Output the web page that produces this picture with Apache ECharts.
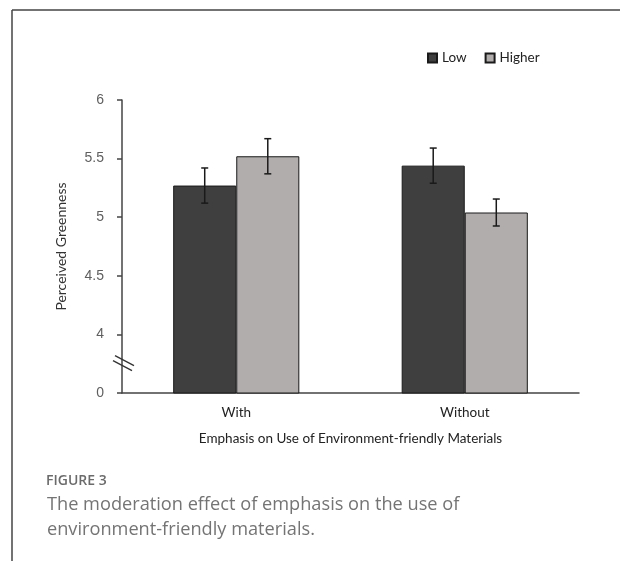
<!DOCTYPE html>
<html>
<head>
<meta charset="utf-8">
<script src="https://cdn.jsdelivr.net/npm/echarts@6/dist/echarts.min.js"></script>
<style>
  html, body { margin: 0; padding: 0; background: #fff; }
  #chart { width: 620px; height: 561px; }
</style>
</head>
<body>
<div id="chart"></div>
<script>
// data
var categories = ["With", "Without"];
var lowMeans = [5.27, 5.44];
var lowErr = [0.15, 0.15];
var higherMeans = [5.52, 5.04];
var higherErr = [0.15, 0.115];
// axis is broken: the bottom tick (3.5) stands for 0
var yTicks = { 3.5: "0", 4: "4", 4.5: "4.5", 5: "5", 5.5: "5.5", 6: "6" };

var barRatio = 0.276;

// error bar drawn over one bar of a group (side -1 = left, +1 = right)
function errorBars(means, errs, side) {
  return {
    type: "custom",
    silent: true,
    z: 5,
    data: means.map(function (m, i) { return [i, m - errs[i], m + errs[i]]; }),
    renderItem: function (params, api) {
      var band = api.size([1, 0])[0];
      var off = side * band * barRatio / 2;
      var lo = api.coord([api.value(0), api.value(1)]);
      var hi = api.coord([api.value(0), api.value(2)]);
      var x = lo[0] + off;
      var cap = 3.5;
      var st = { stroke: "#1a1a1a", lineWidth: 1.5 };
      return {
        type: "group",
        children: [
          { type: "line", shape: { x1: x, y1: hi[1], x2: x, y2: lo[1] }, style: st },
          { type: "line", shape: { x1: x - cap, y1: hi[1], x2: x + cap, y2: hi[1] }, style: st },
          { type: "line", shape: { x1: x - cap, y1: lo[1], x2: x + cap, y2: lo[1] }, style: st }
        ]
      };
    }
  };
}

var chart = echarts.init(document.getElementById("chart"));
var font = "Lato, 'Open Sans', sans-serif";

var option = {
  backgroundColor: "#fff",
  animation: false,
  textStyle: { fontFamily: font },
  legend: {
    data: ["Low", "Higher"],
    left: 422,
    top: 46,
    icon: "rect",
    itemWidth: 9,
    itemHeight: 9,
    itemGap: 18,
    textStyle: { fontSize: 13.5, color: "#222", fontFamily: font }
  },
  grid: { left: 122, right: 41, top: 100, bottom: 168 },
  xAxis: {
    type: "category",
    data: categories,
    name: "Emphasis on Use of Environment-friendly Materials",
    nameLocation: "middle",
    nameGap: 39,
    nameTextStyle: { fontSize: 13.5, color: "#222" },
    axisLine: { lineStyle: { color: "#444", width: 1.5 } },
    axisTick: { show: false },
    axisLabel: { fontSize: 13.5, color: "#222", margin: 13 }
  },
  yAxis: {
    type: "value",
    min: 3.5,
    max: 6,
    interval: 0.5,
    name: "Perceived Greenness",
    nameLocation: "middle",
    nameGap: 54,
    nameTextStyle: { fontSize: 14, color: "#333" },
    axisLine: { show: true, lineStyle: { color: "#444", width: 1.5 } },
    axisTick: { show: true, length: 5, lineStyle: { color: "#444", width: 1.5 } },
    splitLine: { show: false },
    axisLabel: {
      fontSize: 14,
      color: "#5f5f5f",
      margin: 18,
      fontFamily: "'Liberation Sans', Arial, sans-serif",
      formatter: function (v) { return yTicks[v] !== undefined ? yTicks[v] : ""; }
    }
  },
  graphic: [
    { type: "line", shape: { x1: 12, y1: 10, x2: 620, y2: 10 }, style: { stroke: "#444", lineWidth: 1.5 } },
    { type: "line", shape: { x1: 12, y1: 10, x2: 12, y2: 561 }, style: { stroke: "#444", lineWidth: 1.5 } },
    { type: "text", left: 46, top: 474, style: { text: "FIGURE 3", fontSize: 14, fontWeight: 600, fill: "#6b6b6b", fontFamily: "'Open Sans', sans-serif" } },
    { type: "text", left: 47, top: 492, style: { text: "The moderation effect of emphasis on the use of\nenvironment-friendly materials.", fontSize: 18.2, lineHeight: 25, fill: "#747474", fontFamily: "'Open Sans', sans-serif" } }
  ],
  series: [
    {
      name: "Low",
      type: "bar",
      data: lowMeans,
      barWidth: (barRatio * 100) + "%",
      barGap: "0%",
      itemStyle: { color: "#3f3f3f", borderColor: "#1a1a1a", borderWidth: 1 }
    },
    {
      name: "Higher",
      type: "bar",
      data: higherMeans,
      barWidth: (barRatio * 100) + "%",
      barGap: "0%",
      itemStyle: { color: "#b0adac", borderColor: "#1a1a1a", borderWidth: 1 }
    },
    errorBars(lowMeans, lowErr, -1),
    errorBars(higherMeans, higherErr, 1)
  ]
};
chart.setOption(option);

// axis break marks placed at 3.75 on the y axis
var bp = chart.convertToPixel({ gridIndex: 0 }, [0, 3.75]);
var axisX = 122;
chart.setOption({
  graphic: option.graphic.concat([
    { type: "line", shape: { x1: axisX - 7, y1: bp[1] - 8, x2: axisX + 12, y2: bp[1] + 2 }, style: { stroke: "#333", lineWidth: 1.3 }, z: 10 },
    { type: "line", shape: { x1: axisX - 9, y1: bp[1] - 3, x2: axisX + 10, y2: bp[1] + 7 }, style: { stroke: "#333", lineWidth: 1.3 }, z: 10 }
  ])
});
</script>
</body>
</html>
